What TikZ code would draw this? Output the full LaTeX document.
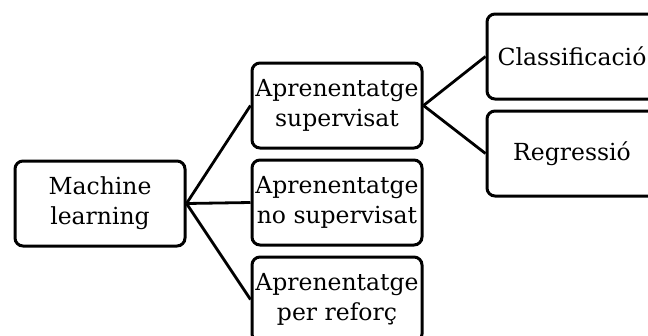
\documentclass[tikz,border=0pt]{standalone}
\usepackage{fontspec}
\setmainfont{DejaVu Serif}
\begin{document}
\begin{tikzpicture}[x=1pt,y=-1pt,
  box/.style={draw=black, line width=3pt, rounded corners=8pt, fill=white,
    minimum width=170pt, minimum height=85pt, inner sep=0pt, align=center,
    font=\fontsize{23.5}{30}\selectfont, text=black},
  link/.style={line width=2.8pt, black}]
\useasboundingbox (0,0) rectangle (648,335);
\clip (0,0) rectangle (648,335);
\node[box] (ml) at (100,203.5) {Machine\\learning};
\node[box] (sup) at (337,105.5) {Aprenentatge\\supervisat};
\node[box] (nos) at (337,202.5) {Aprenentatge\\no supervisat};
\node[box] (ref) at (337,299.5) {Aprenentatge\\per reforç};
\node[box] (cla) at (572,56.5) {Classificació};
\node[box] (reg) at (572,153.5) {Regressió};
\draw[link] (ml.east) -- (sup.west);
\draw[link] (ml.east) -- (nos.west);
\draw[link] (ml.east) -- (ref.west);
\draw[link] (sup.east) -- (cla.west);
\draw[link] (sup.east) -- (reg.west);
\end{tikzpicture}
\end{document}
